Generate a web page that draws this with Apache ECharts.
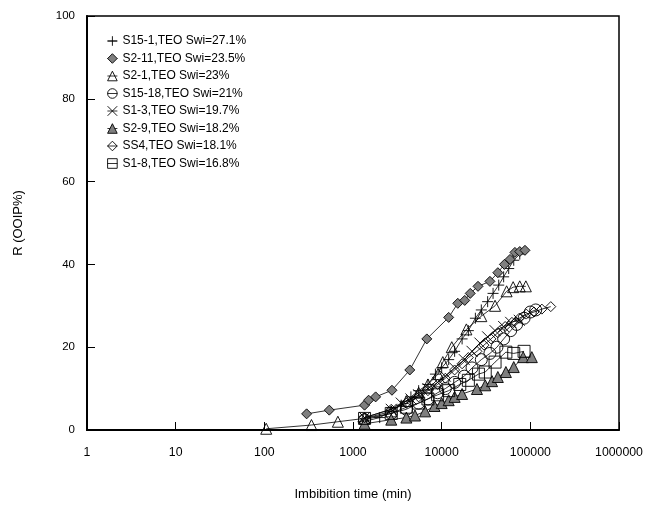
<!DOCTYPE html>
<html>
<head>
<meta charset="utf-8">
<script src="https://cdn.jsdelivr.net/npm/echarts@6/dist/echarts.min.js"></script>
<style>
  html, body { margin: 0; padding: 0; background: #fff; }
  #main { width: 646px; height: 506px; }
</style>
</head>
<body>
<div id="main"></div>
<script>
// values: [time (min), R (OOIP%)]
var s15_1 = [[1300,2],[2000,3],[2700,4.5],[3500,6],[4500,8],[5500,9.5],[7000,11],[8500,13.5],[10000,15],[12000,17],[14000,19],[17000,22],[20000,24],[24000,27],[28000,29],[33000,31],[38000,33],[44000,35],[50000,37],[57000,39],[65000,41],[76000,42.5]];
var s2_11 = [[300,3.9],[540,4.8],[1350,6],[1500,7.2],[1800,8],[2750,9.6],[4370,14.5],[6800,22],[12000,27.2],[15200,30.6],[18200,31.3],[21000,33],[25700,34.7],[35000,35.9],[43000,38],[51000,40],[59000,41.2],[67000,42.9],[76000,43.1],[87000,43.4]];
var s2_1 = [[105,0.3],[340,1.2],[675,2],[1350,2.8],[2700,4.5],[4000,7],[5500,9],[7000,11],[9100,13.5],[10300,16.4],[13000,20],[19000,24.3],[28000,27.5],[40000,30],[54000,33.5],[64000,34.5],[76000,34.7],[89000,34.7]];
var s15_18 = [[1350,2.5],[2700,4],[4000,5],[5500,6.5],[7000,7.5],[9000,9],[11000,10],[14000,11.5],[18000,13],[22000,15],[28000,17],[35000,18.5],[42000,20],[50000,22],[60000,24],[70000,25.5],[85000,27],[100000,28.5],[115000,29]];
var s1_3 = [[1350,3],[2700,5],[3500,6.5],[4500,7.5],[5500,8.5],[7000,10],[9000,11.5],[11000,13],[14000,15],[18000,17],[22000,19],[27000,21],[33000,22.5],[40000,24],[50000,25],[60000,26],[75000,26.5]];
var s2_9 = [[1350,1.5],[2700,2.5],[4000,3],[5000,3.5],[6500,4.5],[8300,5.8],[10000,6.5],[12000,7.2],[14000,8],[17000,8.7],[25000,9.9],[31000,10.8],[37000,11.8],[43000,12.8],[53000,14],[65000,15.2],[83000,17.6],[104000,17.6]];
var ss4 = [[1350,3],[2700,5],[4000,6.5],[5500,8],[7000,9.5],[9000,11],[11000,12.5],[14000,14.5],[17000,16],[20000,17.5],[25000,19],[30000,20.5],[36000,22],[43000,23.5],[52000,25],[62000,26],[75000,27],[90000,28],[110000,28.5],[135000,29.2],[170000,29.8]];
var s1_8 = [[1350,2.8],[2700,4],[4000,5.5],[5500,6.5],[7000,7.5],[9000,8.5],[12000,9.5],[16000,11],[20000,12],[26000,13.5],[31000,14],[40000,16.4],[53000,18.8],[65000,18.5],[85000,19]];

var names = ["S15-1,TEO Swi=27.1%","S2-11,TEO Swi=23.5%","S2-1,TEO Swi=23%","S15-18,TEO Swi=21%",
             "S1-3,TEO Swi=19.7%","S2-9,TEO Swi=18.2%","SS4,TEO Swi=18.1%","S1-8,TEO Swi=16.8%"];
var datas = [s15_1, s2_11, s2_1, s15_18, s1_3, s2_9, ss4, s1_8];
var symbols = ["path://M5,0L5,10M0,5L10,5", "diamond", "triangle", "circle",
               "path://M0,0L10,10M10,0L0,10", "triangle", "diamond", "rect"];
var fills = ["rgba(0,0,0,0)", "#7f7f7f", "rgba(0,0,0,0)", "rgba(0,0,0,0)",
             "rgba(0,0,0,0)", "#7f7f7f", "rgba(0,0,0,0)", "rgba(0,0,0,0)"];
var sizes = [11, 10, 11, 12, 11, 11, 10, 12];
var xTicks = [1, 10, 100, 1000, 10000, 100000, 1000000];

var series = [];
for (var i = 0; i < names.length; i++) {
  series.push({
    name: names[i],
    type: "line",
    data: datas[i],
    symbol: symbols[i],
    symbolSize: sizes[i],
    showAllSymbol: true,
    animation: false,
    lineStyle: { color: "#000", width: 0.8 },
    itemStyle: { color: fills[i], borderColor: "#000", borderWidth: 0.9 }
  });
}

var chart = echarts.init(document.getElementById("main"));
chart.setOption({
  backgroundColor: "#fff",
  animation: false,
  textStyle: { fontFamily: "Liberation Sans, Arial, sans-serif", color: "#000" },
  grid: { left: 87, right: 27, top: 16, bottom: 75, show: true, borderColor: "#000", borderWidth: 1.5 },
  legend: {
    orient: "vertical", left: 102, top: 30,
    itemWidth: 10, itemHeight: 12, itemGap: 5.5,
    itemStyle: { borderWidth: 0.9 },
    lineStyle: { width: 0.8 },
    textStyle: { fontSize: 12, color: "#000" },
    data: names
  },
  xAxis: {
    type: "log", logBase: 10, min: 1, max: 1000000,
    name: "Imbibition time (min)", nameLocation: "middle", nameGap: 58,
    nameTextStyle: { fontSize: 13, color: "#000" },
    axisLine: { lineStyle: { color: "#000", width: 2 } },
    axisTick: { inside: true, length: 8, lineStyle: { color: "#000" } },
    minorTick: { show: false },
    splitLine: { show: false },
    axisLabel: {
      fontSize: 12.3, color: "#000", margin: 17,
      formatter: function (v) { return xTicks.indexOf(v) >= 0 ? String(v) : String(Math.round(v)); }
    }
  },
  yAxis: {
    type: "value", min: 0, max: 100, interval: 20,
    name: "R (OOIP%)", nameLocation: "middle", nameGap: 62,
    nameTextStyle: { fontSize: 13, color: "#000" },
    axisLine: { lineStyle: { color: "#000", width: 2 } },
    axisTick: { inside: true, length: 8, lineStyle: { color: "#000" } },
    splitLine: { show: false },
    axisLabel: { fontSize: 11.5, color: "#000", margin: 12 }
  },
  series: series
});
</script>
</body>
</html>
